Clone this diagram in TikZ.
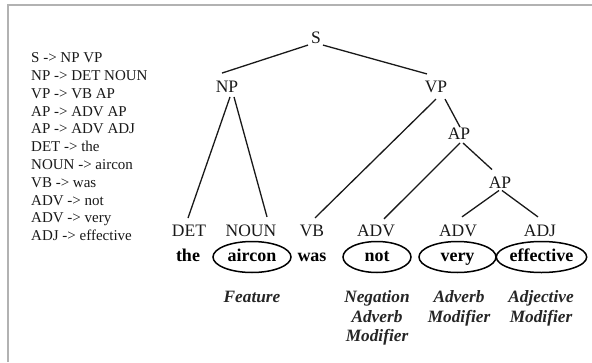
\documentclass[tikz,border=0pt]{standalone}
\usepackage{fontspec}
\setmainfont{Liberation Serif}
\usetikzlibrary{shapes.geometric}

\tikzset{
  cat/.style={inner sep=0pt, text=black!90, font=\fontsize{17.5}{20}\selectfont},
  word/.style={inner sep=0pt, text height=12pt, text depth=4pt,
               font=\fontsize{18}{20}\selectfont\bfseries},
  circled/.style={word, draw=black, ellipse, line width=1.5pt,
                  minimum height=31pt},
  role/.style={inner sep=0pt, anchor=north, align=center,
               font=\fontsize{17.3}{19.5}\selectfont\bfseries\itshape, text=black!85},
  branch/.style={line width=1.3pt, black!90},
  rules/.style={inner sep=0pt, anchor=north west, align=left,
                font=\fontsize{15}{17.8}\selectfont, text=black!90}
}

\begin{document}
\begin{tikzpicture}[x=1pt, y=1pt]
  \useasboundingbox (0,0) rectangle (592,-362);
  \fill[white] (0,0) rectangle (592,-362);
  % frame edges along the top and the left
  \draw[black!30, line width=2pt] (7.5,-362) -- (7.5,-4.5) -- (592,-4.5);

  % grammar rules
  \node[rules] (grammar) at (31,-52.5) {%
    S -> NP VP\\
    NP -> DET NOUN\\
    VP -> VB AP\\
    AP -> ADV AP\\
    AP -> ADV ADJ\\
    DET -> the\\
    NOUN -> aircon\\
    VB -> was\\
    ADV -> not\\
    ADV -> very\\
    ADJ -> effective};

  % phrase nodes
  \node[cat] (S)   at (316,-38)  {S};
  \node[cat] (NP)  at (227,-87)  {NP};
  \node[cat] (VP)  at (436,-87)  {VP};
  \node[cat] (AP1) at (459,-134) {AP};
  \node[cat] (AP2) at (500,-182.5) {AP};

  % part-of-speech nodes
  \node[cat] (DET)  at (189,-231) {DET};
  \node[cat] (NOUN) at (251,-231) {NOUN};
  \node[cat] (VB)   at (312,-231) {VB};
  \node[cat] (ADV1) at (376,-231) {ADV};
  \node[cat] (ADV2) at (458,-231) {ADV};
  \node[cat] (ADJ)  at (540,-231) {ADJ};

  % words
  \node[word] (the) at (188,-257) {the};
  \node[circled, minimum width=78pt] (aircon) at (252,-257) {aircon};
  \node[word] (was) at (312,-257) {was};
  \node[circled, minimum width=68pt] (not) at (377,-257) {not};
  \node[circled, minimum width=77pt] (very) at (457.5,-257) {very};
  \node[circled, minimum width=77pt] (effective) at (541.5,-257) {effective};

  % roles
  \node[role] (feature)  at (252,-290.5) {Feature};
  \node[role] (negation) at (377,-290.5) {Negation\\Adverb\\Modifier};
  \node[role] (advmod)   at (459,-290.5) {Adverb\\Modifier};
  \node[role] (adjmod)   at (541,-290.5) {Adjective\\Modifier};

  % branches
  \draw[branch] ([shift={(-8pt,-1pt)}]S.south) -- ([shift={(-5pt,8pt)}]NP.north);
  \draw[branch] ([shift={(7pt,-1pt)}]S.south)  -- ([shift={(-9pt,7pt)}]VP.north);
  \draw[branch] ([shift={(3pt,-4pt)}]NP.south) -- ([shift={(-1pt,7pt)}]DET.north);
  \draw[branch] ([shift={(7pt,-4pt)}]NP.south) -- ([shift={(16pt,8pt)}]NOUN.north);
  \draw[branch] ([shift={(0pt,-6pt)}]VP.south) -- ([shift={(3pt,7pt)}]VB.north);
  \draw[branch] ([shift={(9pt,-6pt)}]VP.south) -- ([shift={(1pt,1pt)}]AP1.north);
  \draw[branch] ([shift={(1pt,-3pt)}]AP1.south) -- ([shift={(8pt,6pt)}]ADV1.north);
  \draw[branch] ([shift={(4pt,-3pt)}]AP1.south) -- ([shift={(-8pt,7pt)}]AP2.north);
  \draw[branch] ([shift={(-1pt,-2pt)}]AP2.south) -- ([shift={(4pt,8pt)}]ADV2.north);
  \draw[branch] ([shift={(2pt,-2pt)}]AP2.south) -- ([shift={(-2pt,8pt)}]ADJ.north);
\end{tikzpicture}
\end{document}
